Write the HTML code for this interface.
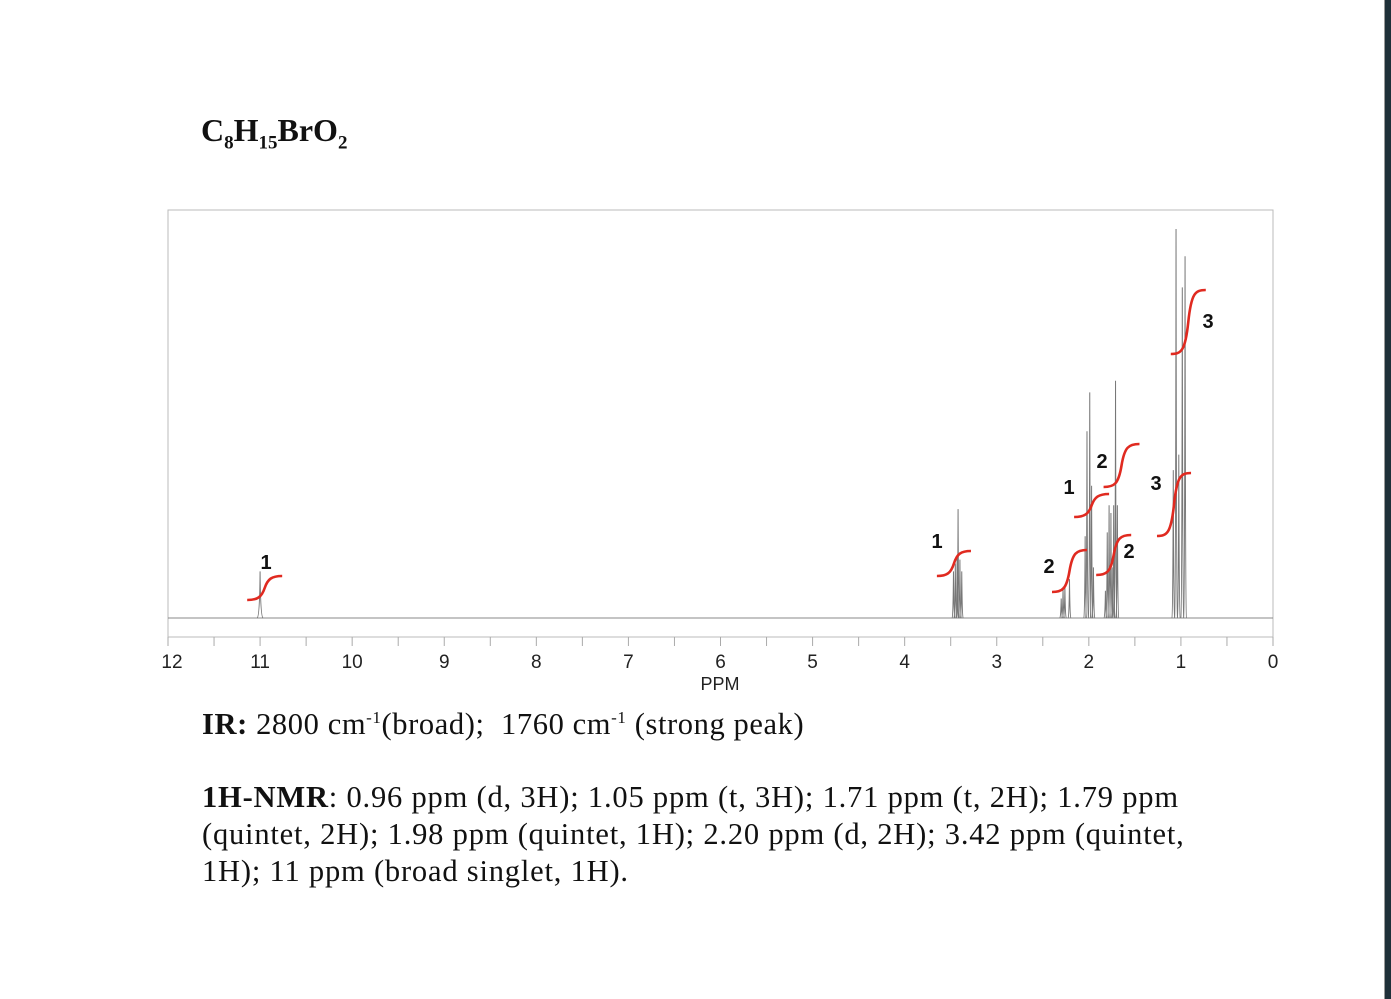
<!DOCTYPE html>
<html><head><meta charset="utf-8">
<style>
body{margin:0;width:1391px;height:999px;background:#fff;overflow:hidden;position:relative;font-family:"Liberation Serif",serif;}
.t{position:absolute;color:#111;white-space:nowrap;}
#strip{position:absolute;left:1384px;top:0;width:7px;height:999px;background:#1f3039;border-left:1px solid #999;}
</style></head><body>
<div id="strip"></div>
<div class="t" style="left:201px;top:112px;font-size:32px;font-weight:bold;">C<sub style="font-size:19px">8</sub>H<sub style="font-size:19px">15</sub>BrO<sub style="font-size:19px">2</sub></div>
<svg id="chart" width="1391" height="999" style="position:absolute;left:0;top:0" xmlns="http://www.w3.org/2000/svg"></svg>
<div class="t" style="left:202px;top:707px;font-size:30.5px;letter-spacing:0.6px;"><b>IR:</b> 2800 cm<sup style="font-size:17px">-1</sup>(broad);&nbsp; 1760 cm<sup style="font-size:17px">-1</sup> (strong peak)</div>
<div class="t" style="left:202px;top:779px;font-size:30.5px;line-height:37px;letter-spacing:0.8px;"><b>1H-NMR</b>: 0.96 ppm (d, 3H); 1.05 ppm (t, 3H); 1.71 ppm (t, 2H); 1.79 ppm<br>(quintet, 2H); 1.98 ppm (quintet, 1H); 2.20 ppm (d, 2H); 3.42 ppm (quintet,<br>1H); 11 ppm (broad singlet, 1H).</div>
<script>
const peakPpm=[11.0,3.47,3.45,3.43,3.42,3.40,3.38,2.30,2.28,2.26,2.21,2.04,2.02,1.99,1.97,1.95,1.82,1.80,1.78,1.76,1.74,1.73,1.71,1.69,1.083,1.053,1.023,0.985,0.955];
const peakHeight=[12,12,14,16,28,15,12,5,8,8,10,21,48,58,34,13,7,22,29,27,13,29,61,29,38,100,42,85,93];
const intRange=[[11.14,10.76],[3.65,3.28],[2.4,2.02],[2.16,1.78],[1.92,1.54],[1.84,1.45],[1.26,0.89],[1.11,0.73]];
const intY=[[600,576],[576,551],[592,550],[517,494],[575,535],[487,444],[536,473],[354,290]];
const intLabel=["1","1","2","1","2","2","3","3"];
const labelPos=[[266,569],[937,548],[1049,573],[1069,494],[1129,558],[1102,468],[1156,490],[1208,328]];
const xTicks=[12,11,10,9,8,7,6,5,4,3,2,1,0];
const L=168,R=1273,T=210,AX=637,BASE=618,TOP=229;
const x=p=>L+(12-p)*(R-L)/12;
const y=h=>BASE-h*(BASE-TOP)/100;
const svg=document.getElementById('chart');
const NS='http://www.w3.org/2000/svg';
function mk(tag,attrs){const e=document.createElementNS(NS,tag);for(const k in attrs)e.setAttribute(k,attrs[k]);svg.appendChild(e);return e;}
let e=mk('rect',{x:L,y:T,width:R-L,height:AX-T,fill:'none',stroke:'#bbb','stroke-width':1});


e=mk('line',{x1:L,x2:R,y1:BASE,y2:BASE,stroke:'#888','stroke-width':1});


for(let t=0;t<=24;t++){const p=t/2;
  e=mk('line',{x1:x(p),x2:x(p),y1:AX,y2:AX+9,stroke:'#aaa','stroke-width':1});
  
  }
xTicks.forEach(p=>{
  e=mk('text',{x:x(p)+(p===12?4:0),y:668,'text-anchor':'middle','font-family':'Liberation Sans, sans-serif','font-size':19,fill:'#222'});
  e.textContent=p;
  
  });
e=mk('text',{x:720,y:690,'text-anchor':'middle','font-family':'Liberation Sans, sans-serif','font-size':18,fill:'#222'});
e.textContent='PPM';


peakPpm.forEach((p,i)=>{
  const px=x(p),py=y(peakHeight[i]);const w=(p>10)?3:1.4;
  e=mk('path',{d:`M${px-w},${BASE} Q${px-0.4},${BASE-1} ${px},${py} Q${px+0.4},${BASE-1} ${px+w},${BASE}`,fill:'none',stroke:'#777','stroke-width':1});
  
  });
intRange.forEach((r,i)=>{
  const x1=x(r[0]),x2=x(r[1]),y1=intY[i][0],y2=intY[i][1],xm=(x1+x2)/2,ym=(y1+y2)/2;
  e=mk('path',{d:`M${x1},${y1} C${x1+(x2-x1)*0.3},${y1} ${xm-3},${y1-3} ${xm},${ym} S${x1+(x2-x1)*0.7},${y2} ${x2},${y2}`,fill:'none',stroke:'#e02a20','stroke-width':2.6});
  
  
  e=mk('text',{x:labelPos[i][0],y:labelPos[i][1],'text-anchor':'middle','font-family':'Liberation Sans, sans-serif','font-size':20,'font-weight':'bold',fill:'#111'});
  e.textContent=intLabel[i];
  
  });
</script>
</body></html>
